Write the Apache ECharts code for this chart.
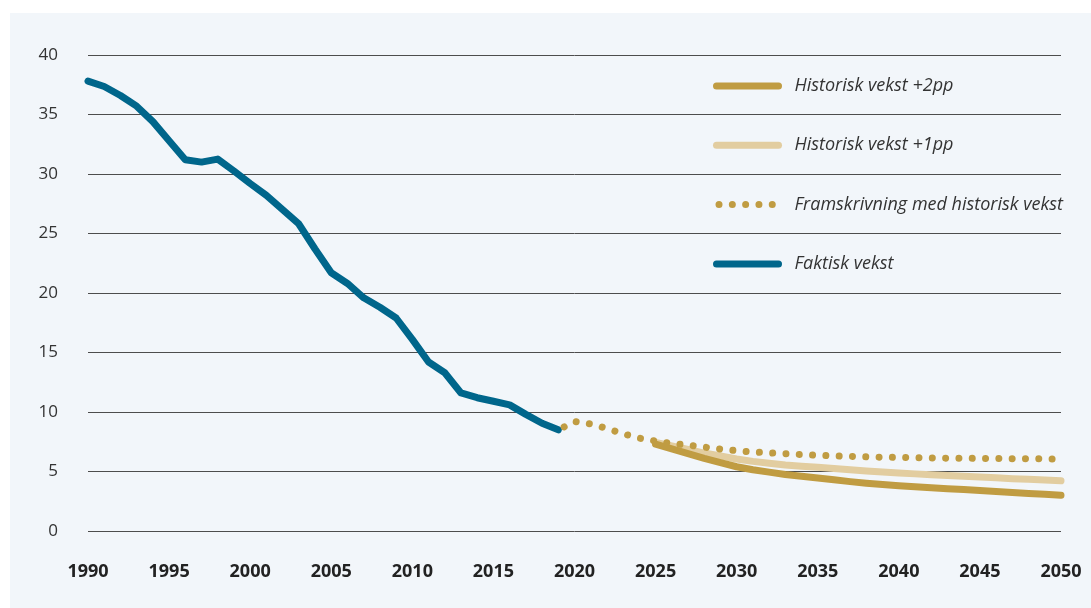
<!DOCTYPE html>
<html>
<head>
<meta charset="utf-8">
<script src="https://cdn.jsdelivr.net/npm/echarts@6/dist/echarts.min.js"></script>
<style>
  html, body { margin: 0; padding: 0; background: #ffffff; }
  #bg { position: absolute; left: 10px; top: 13px; width: 1081px; height: 595px; background: #F2F6FA; }
  #chart { position: absolute; left: 0; top: 0; width: 1091px; height: 608px; }
</style>
</head>
<body>
<div id="bg"></div>
<div id="chart"></div>
<script>
// ---- Data ----
const factStartYear = 1990;
const factValues = [37.8, 37.35, 36.6, 35.7, 34.4, 32.8, 31.2, 31.0, 31.25, 30.25,
                    29.2, 28.2, 27.0, 25.8, 23.7, 21.7, 20.8, 19.6, 18.8, 17.9,
                    16.1, 14.2, 13.3, 11.6, 11.2, 10.9, 10.6, 9.8, 9.05, 8.5];

const projStartYear = 2019;
const projValues = [8.5, 9.2, 9.0, 8.62, 8.17, 7.8, 7.56, 7.35, 7.22, 7.05,
                    6.88, 6.75, 6.64, 6.56, 6.49, 6.42, 6.36, 6.31, 6.27, 6.23,
                    6.2, 6.18, 6.16, 6.14, 6.12, 6.11, 6.1, 6.09, 6.08, 6.07, 6.06, 6.06];

const scenStartYear = 2025;
const plus1Values = [7.45, 7.15, 6.85, 6.55, 6.3, 6.05, 5.85, 5.7, 5.55, 5.45,
                     5.35, 5.25, 5.15, 5.05, 4.95, 4.88, 4.8, 4.73, 4.67, 4.6,
                     4.53, 4.47, 4.4, 4.34, 4.28, 4.22];
const plus2Values = [7.3, 6.9, 6.5, 6.1, 5.75, 5.4, 5.15, 4.95, 4.75, 4.6,
                     4.45, 4.3, 4.15, 4.02, 3.9, 3.8, 3.72, 3.64, 3.56, 3.48,
                     3.4, 3.32, 3.24, 3.16, 3.08, 3.0];

const seriesNames = ['Faktisk vekst', 'Historisk vekst +1pp', 'Historisk vekst +2pp', 'Framskrivning med historisk vekst'];
const legendOrder = ['Historisk vekst +2pp', 'Historisk vekst +1pp', 'Framskrivning med historisk vekst', 'Faktisk vekst'];

const xMin = 1990, xMax = 2050, xStep = 5;
const yMin = 0, yMax = 40, yStep = 5;

function pairs(start, vals) { return vals.map((v, i) => [start + i, v]); }

// ---- Chart ----
const chart = echarts.init(document.getElementById('chart'), null, { renderer: 'canvas' });
const FONT = '"Open Sans", "Noto Sans", sans-serif';
const BLUE = '#00668B', GOLD = '#C09C42', LIGHT = '#E2CDA0';

chart.setOption({
  backgroundColor: 'transparent',
  animation: false,
  grid: { left: 88, right: 30, top: 55, bottom: 77, containLabel: false },
  legend: {
    data: legendOrder,
    orient: 'vertical',
    left: 713,
    top: 76,
    padding: 0,
    itemWidth: 62,
    itemHeight: 20,
    itemGap: 39.3,
    selectedMode: false,
    textStyle: { fontFamily: FONT, fontSize: 18, fontStyle: 'italic', color: '#333', padding: [0, 0, 0, 11], lineHeight: 20 },
    lineStyle: { width: 7, cap: 'round', dashOffset: 10.8 },
    itemStyle: { opacity: 0 }
  },
  xAxis: {
    type: 'value',
    min: xMin, max: xMax, interval: xStep,
    axisLine: { show: false },
    axisTick: { show: false },
    splitLine: { show: false },
    axisLabel: { fontFamily: FONT, fontSize: 18, fontWeight: 'bold', color: '#222', margin: 32,
                 formatter: v => String(v) }
  },
  yAxis: {
    type: 'value',
    min: yMin, max: yMax, interval: yStep,
    axisLine: { show: false },
    axisTick: { show: false },
    splitLine: { show: true, lineStyle: { color: '#4d4d4d', width: 1 } },
    axisLabel: { fontFamily: FONT, fontSize: 17, color: '#333', margin: 30 }
  },
  series: [
    {
      name: seriesNames[0], type: 'line', data: pairs(factStartYear, factValues),
      symbol: 'none', lineStyle: { color: BLUE, width: 7, cap: 'round', join: 'round' },
      itemStyle: { color: BLUE }
    },
    {
      name: seriesNames[1], type: 'line', data: pairs(scenStartYear, plus1Values),
      symbol: 'none', lineStyle: { color: LIGHT, width: 7, cap: 'round', join: 'round' },
      itemStyle: { color: LIGHT }
    },
    {
      name: seriesNames[2], type: 'line', data: pairs(scenStartYear, plus2Values),
      symbol: 'none', lineStyle: { color: GOLD, width: 7, cap: 'round', join: 'round' },
      itemStyle: { color: GOLD }
    },
    {
      name: seriesNames[3], type: 'line', data: pairs(projStartYear, projValues),
      symbol: 'none', lineStyle: { color: GOLD, width: 7, cap: 'round', type: [0.01, 13.3], dashOffset: 6.7 },
      itemStyle: { color: GOLD }
    }
  ]
});
</script>
</body>
</html>
